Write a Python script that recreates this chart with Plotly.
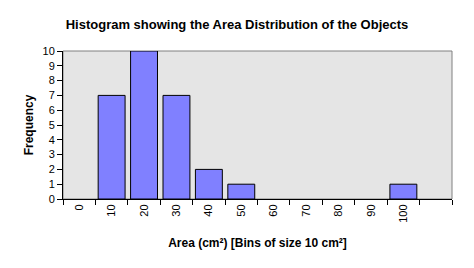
import plotly.graph_objects as go

bin_labels = ["0", "10", "20", "30", "40", "50", "60", "70", "80", "90", "100", ""]
frequency = [0, 7, 10, 7, 2, 1, 0, 0, 0, 0, 1, 0]
positions = list(range(len(bin_labels)))

bar_x = [p for p, f in zip(positions, frequency) if f > 0]
bar_y = [f for f in frequency if f > 0]

FONT = "Liberation Sans, Arial, sans-serif"

fig = go.Figure()
fig.add_trace(go.Bar(
    x=bar_x, y=bar_y, width=0.83,
    marker=dict(color="#8080FF", line=dict(color="black", width=1)),
    hoverinfo="skip",
))

fig.update_layout(
    width=474, height=268,
    margin=dict(l=63, r=22, t=51, b=69),
    paper_bgcolor="white", plot_bgcolor="#E5E5E5",
    showlegend=False,
    font=dict(family=FONT, size=11, color="black"),
    title=dict(text="<b>Histogram showing the Area Distribution of the Objects</b>",
               x=0.5, xanchor="center", y=0.91, yanchor="middle",
               font=dict(family=FONT, size=13, color="black")),
    shapes=[dict(type="rect", xref="paper", yref="paper", x0=0, x1=1, y0=0, y1=1,
                 line=dict(color="#808080", width=1), layer="below")],
)

fig.update_xaxes(
    range=[-0.5, len(bin_labels) - 0.5],
    tickmode="array", tickvals=positions, ticktext=bin_labels,
    tickangle=-90, ticks="", ticklen=0,
    showgrid=False, zeroline=False,
    showline=True, linecolor="black", linewidth=1,
    tickfont=dict(family=FONT, size=11, color="black"),
    minor=dict(ticks="outside", ticklen=5, tickcolor="black", tickmode="array",
               tickvals=[p - 0.5 for p in positions] + [len(bin_labels) - 0.5],
               showgrid=False),
    title=dict(text="<b>Area (cm²) [Bins of size 10 cm²]</b>", standoff=16,
               font=dict(family=FONT, size=12, color="black")),
)

fig.update_yaxes(
    range=[0, 10], dtick=1, tick0=0,
    ticks="outside", ticklen=5, tickcolor="black",
    showgrid=False, zeroline=False,
    showline=True, linecolor="black", linewidth=1,
    tickfont=dict(family=FONT, size=11, color="black"),
    title=dict(text="<b>Frequency</b>", standoff=6,
               font=dict(family=FONT, size=12, color="black")),
)

fig.write_html("out.html")
